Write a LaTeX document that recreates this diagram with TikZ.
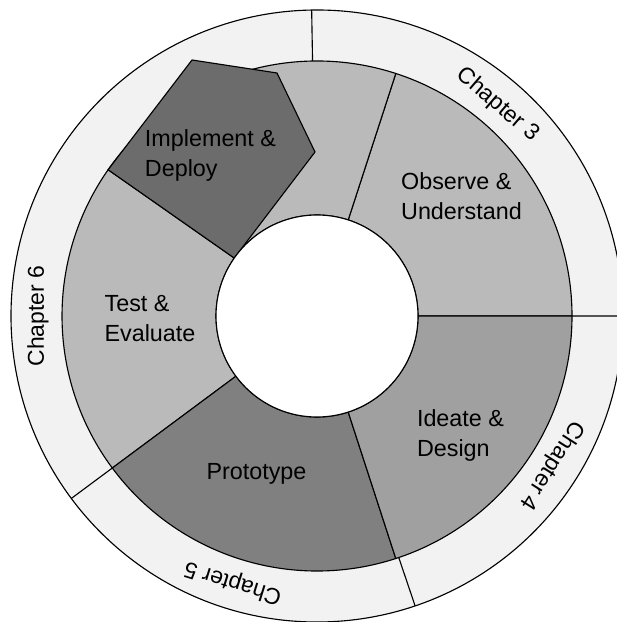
\documentclass[tikz,border=0pt]{standalone}
\usepackage{fontspec}
\setmainfont{Liberation Sans}
\usetikzlibrary{positioning}

\definecolor{ringgray}{HTML}{F2F2F2}
\definecolor{lightseg}{HTML}{BABABA}
\definecolor{ideateseg}{HTML}{A0A0A0}
\definecolor{protoseg}{HTML}{808080}
\definecolor{implseg}{HTML}{6C6C6C}

\begin{document}
\begin{tikzpicture}[x=0.025cm,y=0.025cm,line width=0.8pt,
	seg/.style={draw=black,line join=round},
	phase/.style={align=left,inner sep=0pt,font=\fontsize{16.6}{21}\selectfont},
	chap/.style={inner sep=0pt,font=\fontsize{16.3}{20}\selectfont}]
	\useasboundingbox (-317,-306) rectangle (299,316);
	% chapter ring
	\filldraw[fill=ringgray] (0,0) circle[radius=306];
	\draw (91:255) -- (91:306) (0:255) -- (0:306)
		(-71.3:255) -- (-71.3:306) (216.6:255) -- (216.6:306);
	% phases
	\filldraw[seg,fill=lightseg] (0:101) -- (0:255) arc[start angle=0,end angle=72,radius=255]
		-- (72:101) arc[start angle=72,end angle=0,radius=101] -- cycle;
	\filldraw[seg,fill=lightseg] (72:101) -- (72:255) arc[start angle=72,end angle=145,radius=255]
		-- (145:101) arc[start angle=145,end angle=72,radius=101] -- cycle;
	\filldraw[seg,fill=lightseg] (145:101) -- (145:255) arc[start angle=145,end angle=216.6,radius=255]
		-- (216.6:101) arc[start angle=216.6,end angle=145,radius=101] -- cycle;
	\filldraw[seg,fill=protoseg] (216.6:101) -- (216.6:255) arc[start angle=216.6,end angle=288,radius=255]
		-- (288:101) arc[start angle=288,end angle=216.6,radius=101] -- cycle;
	\filldraw[seg,fill=ideateseg] (288:101) -- (288:255) arc[start angle=288,end angle=360,radius=255]
		-- (0:101) arc[start angle=360,end angle=288,radius=101] -- cycle;
	% implement pentagon
	\filldraw[seg,fill=implseg] (145:255) -- (-125,256) -- (-40,243) -- (-2,164) -- (145:101) -- cycle;
	\filldraw[fill=white] (0,0) circle[radius=101];

	\node[phase] (observe) at (144.5,120) {Observe \&\\Understand};
	\node[phase] (ideate) at (143.5,-119.5) {Ideate \&\\Design};
	\node[phase] (proto) at (-60.5,-158) {Prototype};
	\node[phase] (test) at (-167,-2.5) {Test \&\\Evaluate};
	\node[phase] (impl) at (-106.5,160.5) {Implement \&\\Deploy};

	\node[chap,rotate=-40.5] (ch3) at (49.5:278) {Chapter 3};
	\node[chap,rotate=-122.5] (ch4) at (-32.5:278) {Chapter 4};
	\node[chap,rotate=162.5] (ch5) at (252.5:279) {Chapter 5};
	\node[chap,rotate=90] (ch6) at (180:279) {Chapter 6};
\end{tikzpicture}
\end{document}
